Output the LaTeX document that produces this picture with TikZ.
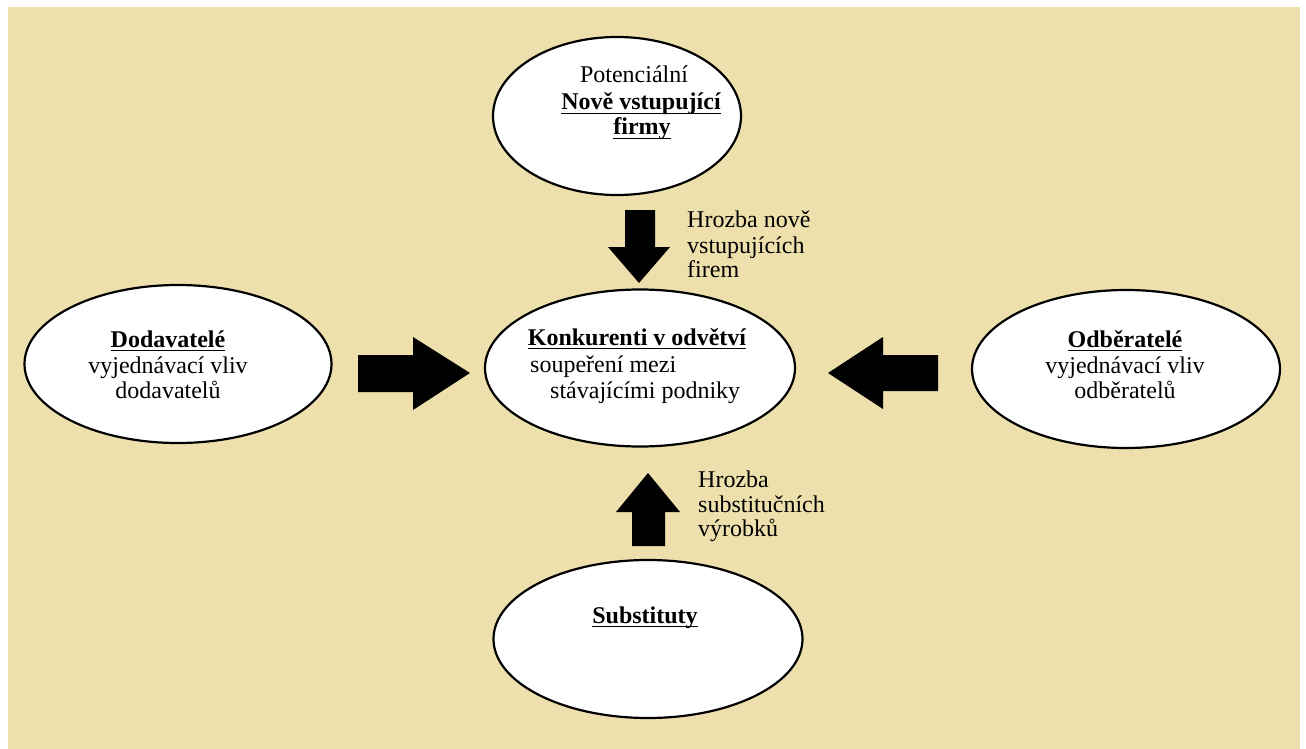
\documentclass[tikz,border=0pt]{standalone}
\usepackage{fontspec}
\setmainfont{Liberation Serif}
\usetikzlibrary{shapes.geometric}
\definecolor{paper}{RGB}{237,224,172}
% bold heading with a heavy rule under it
\newsavebox{\headbox}
\newcommand{\headline}[1]{\sbox{\headbox}{\bfseries #1}%
  \leavevmode\rlap{\vrule height -2.6pt depth 4.4pt width \wd\headbox}\usebox{\headbox}}
\begin{document}
\begin{tikzpicture}[x=1pt,y=-1pt,
  force/.style={ellipse, draw=black, line width=2.2pt, fill=white, inner sep=0pt},
  lbl/.style={anchor=base, font=\fontsize{24}{25}\selectfont, inner sep=0pt},
  lbll/.style={lbl, anchor=base west},
  blockarrow/.style={fill=black}]
\useasboundingbox (0,0) rectangle (1306,749);
\fill[white] (0,0) rectangle (1306,749);
\fill[paper] (8,7) rectangle (1300,749);

% the five forces
\node[force, minimum width=248, minimum height=158] (entrants) at (617,116) {};
\node[force, minimum width=310, minimum height=157] (rivals) at (640,368) {};
\node[force, minimum width=307, minimum height=158] (suppliers) at (178,364) {};
\node[force, minimum width=308, minimum height=158] (buyers) at (1126,369) {};
\node[force, minimum width=309, minimum height=158] (substitutes) at (648,639) {};

% labels inside the ellipses
\node[lbl] (entT1) at (634,83) {Potenciální};
\node[lbl] (entT2) at (641,110) {\headline{Nově vstupující}};
\node[lbl] (entT3) at (642,135) {\headline{firmy}};

\node[lbl] (rivT1) at (637,345) {\headline{Konkurenti v odvětví}};
\node[lbll] (rivT2) at (530,372) {soupeření mezi};
\node[lbll] (rivT3) at (550,398) {stávajícími podniky};

\node[lbl] (supT1) at (168,347) {\headline{Dodavatelé}};
\node[lbl] (supT2) at (168,373) {vyjednávací vliv};
\node[lbl] (supT3) at (168,398) {dodavatelů};

\node[lbl] (buyT1) at (1125,347) {\headline{Odběratelé}};
\node[lbl] (buyT2) at (1125,373) {vyjednávací vliv};
\node[lbl] (buyT3) at (1125,398) {odběratelů};

\node[lbl] (subT1) at (645,623) {\headline{Substituty}};

% block arrows
\fill[blockarrow] (358,355) -- (413,355) -- (413,337) -- (470,373) -- (413,410) -- (413,392) -- (358,392) -- cycle;
\fill[blockarrow] (938,355) -- (883,355) -- (883,337) -- (828,373) -- (883,409) -- (883,391) -- (938,391) -- cycle;
\fill[blockarrow] (625,210) -- (655,210) -- (655,247) -- (670,247) -- (639,283) -- (608,247) -- (625,247) -- cycle;
\fill[blockarrow] (632,546) -- (632,512) -- (616,512) -- (648,473) -- (680,512) -- (665,512) -- (665,546) -- cycle;

% arrow captions
\node[lbll] (thr1) at (687,227) {Hrozba nově};
\node[lbll] (thr2) at (687,253) {vstupujících};
\node[lbll] (thr3) at (687,277) {firem};

\node[lbll] (sub1) at (698,487) {Hrozba};
\node[lbll] (sub2) at (698,512) {substitučních};
\node[lbll] (sub3) at (698,536) {výrobků};
\end{tikzpicture}
\end{document}
